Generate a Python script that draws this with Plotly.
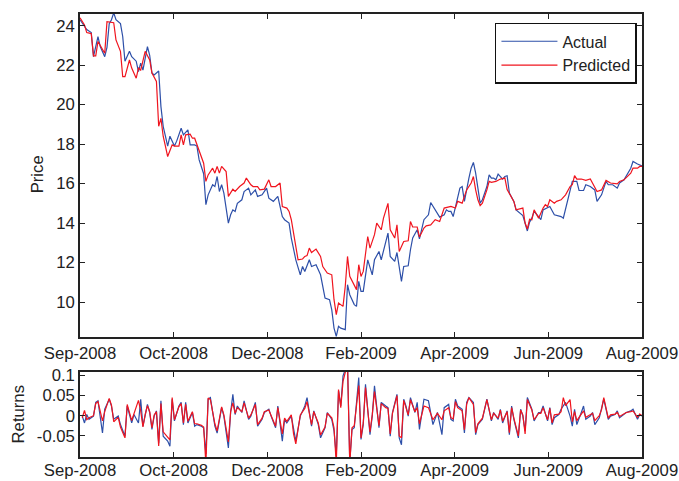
import plotly.graph_objects as go

# ---------------- data ----------------
tick_labels = ["Sep-2008", "Oct-2008", "Dec-2008", "Feb-2009", "Apr-2009", "Jun-2009", "Aug-2009"]
tick_days = [0, 41.667, 83.333, 125, 166.667, 208.333, 250]

actual_day = [0, 2, 3, 5, 6, 8, 9, 11, 12, 13, 14, 15, 16, 18, 19, 20, 22, 23, 25, 26, 27, 28, 29, 30,
              31, 32, 33, 35, 36, 37, 38, 39, 40, 42, 43, 45, 46, 48, 49, 51, 52, 53, 55, 56, 57, 59,
              60, 61, 62, 63, 64, 66, 67, 68, 69, 70, 72, 73, 75, 76, 78, 79, 81, 83, 84, 86, 88, 90,
              91, 93, 94, 95, 96, 98, 99, 100, 102, 103, 105, 107, 108, 109, 111, 112, 113, 114, 115,
              116, 118, 119, 120, 122, 123, 124, 125, 126, 128, 130, 131, 133, 134, 136, 137, 138,
              140, 141, 143, 144, 146, 147, 148, 150, 151, 153, 155, 156, 158, 160, 162, 163, 164,
              165, 166, 168, 169, 170, 171, 173, 174, 175, 176, 177, 178, 179, 181, 182, 183, 184,
              185, 186, 188, 189, 190, 191, 193, 194, 196, 197, 199, 200, 201, 202, 204, 205, 206,
              208, 209, 211, 214, 215, 217, 218, 219, 221, 222, 224, 225, 227, 229, 230, 232, 234,
              235, 237, 239, 240, 242, 245, 246, 248, 250]
actual_price = [24.3, 23.95, 23.8, 23.65, 22.43, 23.44, 22.94, 22.43, 22.9, 24.1, 24.3, 24.65, 24.3,
                24.1, 23.45, 22.2, 22.7, 22.43, 22.2, 21.67, 22.1, 21.75, 22.35, 22.94, 22.5, 21.6,
                21.5, 21.7, 19.9, 18.9, 18.4, 17.9, 18.4, 17.9, 18.15, 18.8, 18.47, 18.72, 17.96,
                17.96, 17.9, 17.2, 16.5, 14.93, 15.43, 15.94, 15.85, 16.36, 15.6, 15.94, 15.52, 14.0,
                14.42, 14.67, 14.59, 15.0, 15.18, 15.6, 15.77, 15.43, 15.68, 15.35, 15.43, 15.77,
                15.26, 15.1, 15.35, 14.33, 14.17, 14.0, 13.24, 12.73, 12.14, 11.38, 11.8, 11.55,
                12.14, 11.8, 11.89, 11.38, 10.71, 10.2, 10.12, 9.6, 8.68, 8.26, 8.77, 8.68, 8.6,
                10.88, 10.37, 9.87, 9.78, 11.05, 10.54, 10.54, 12.14, 11.38, 12.14, 12.56, 12.14,
                12.98, 13.49, 12.31, 12.06, 12.51, 11.05, 11.8, 11.84, 12.65, 13.25, 13.66, 13.2,
                14.17, 14.42, 15.04, 14.67, 14.3, 14.42, 14.67, 14.59, 14.59, 14.33, 15.26, 15.77,
                15.85, 15.1, 16.28, 16.78, 17.07, 16.53, 15.77, 15.01, 15.18, 15.85, 16.44, 16.28,
                16.28, 16.19, 16.48, 16.23, 16.36, 16.4, 15.52, 15.1, 14.67, 14.45, 14.38, 13.6,
                14.05, 14.25, 14.59, 14.33, 14.17, 14.67, 14.76, 14.84, 14.42, 14.33, 14.25, 15.26,
                15.6, 16.11, 16.11, 15.65, 15.65, 15.94, 15.85, 15.68, 15.1, 15.43, 16.11, 15.94,
                15.94, 15.77, 16.03, 16.19, 16.78, 17.12, 16.99, 16.9]

pred_day = [0, 2, 3, 5, 6, 7, 8, 10, 11, 12, 15, 16, 18, 19, 20, 22, 23, 25, 26, 27, 28, 29, 31,
            32, 34, 35, 36, 37, 38, 39, 41, 42, 44, 45, 46, 47, 49, 50, 51, 52, 53, 55, 56, 57, 59,
            60, 61, 62, 63, 65, 66, 67, 68, 69, 71, 73, 74, 76, 77, 79, 80, 82, 84, 85, 87, 89, 90,
            92, 93, 94, 95, 96, 97, 99, 100, 101, 102, 103, 105, 107, 108, 110, 112, 113, 114, 115,
            117, 118, 119, 120, 122, 123, 124, 125, 126, 128, 129, 131, 132, 134, 135, 136, 137,
            138, 140, 141, 142, 144, 146, 147, 148, 150, 151, 153, 154, 156, 158, 160, 162, 165,
            167, 168, 170, 171, 172, 174, 175, 176, 177, 178, 179, 181, 182, 183, 185, 187, 189,
            190, 193, 194, 197, 198, 199, 200, 201, 202, 204, 206, 207, 208, 209, 211, 212, 214,
            216, 218, 219, 220, 221, 223, 225, 227, 228, 230, 232, 234, 236, 239, 240, 242, 245,
            246, 248, 249, 250]
pred_price = [24.4, 24.03, 23.65, 23.6, 22.47, 22.47, 23.2, 22.77, 22.6, 24.2, 24.15, 23.28, 22.7,
              21.42, 21.42, 22.26, 21.85, 21.34, 21.85, 21.75, 22.18, 22.7, 22.26, 21.6, 21.17,
              18.9, 19.3, 18.4, 17.9, 17.37, 17.96, 17.9, 17.9, 18.47, 17.96, 18.47, 18.5, 18.3,
              18.3, 17.96, 17.62, 17.03, 16.11, 16.44, 16.78, 16.53, 16.87, 16.53, 16.87, 16.61,
              15.35, 15.52, 15.72, 15.6, 15.85, 16.03, 16.28, 15.94, 15.85, 15.85, 15.68, 15.72,
              16.19, 15.85, 15.85, 16.03, 14.84, 14.76, 14.59, 14.17, 13.41, 12.73, 12.14, 12.18,
              12.31, 12.35, 12.73, 12.51, 12.68, 12.31, 11.8, 11.47, 11.38, 10.12, 9.36, 9.95, 9.78,
              10.8, 12.31, 11.3, 10.88, 10.63, 11.89, 11.3, 11.55, 13.32, 12.73, 13.41, 14.0, 13.66,
              14.25, 14.59, 15.0, 13.66, 13.24, 13.91, 12.56, 13.07, 13.1, 14.08, 13.8, 13.8, 13.3,
              13.75, 13.86, 13.91, 14.17, 14.08, 14.76, 14.84, 14.76, 15.1, 15.01, 15.35, 15.68,
              16.03, 16.36, 15.68, 15.18, 14.88, 15.01, 15.68, 16.11, 16.06, 16.11, 16.23, 16.28,
              15.7, 15.1, 14.67, 14.76, 14.0, 13.7, 14.2, 14.17, 14.67, 14.25, 14.76, 14.93, 14.84,
              15.18, 15.01, 15.1, 15.18, 15.43, 15.85, 15.94, 16.4, 16.23, 16.23, 16.16, 16.23,
              16.03, 15.6, 15.68, 16.16, 16.03, 15.99, 16.11, 16.19, 16.53, 16.78, 16.78, 16.87,
              16.87]

ret_day = [1, 2, 3, 4, 6, 7, 8, 10, 11, 13, 14, 15, 17, 18, 20, 21, 23, 24, 26, 27, 28, 29, 30, 31,
           32, 33, 34, 35, 36, 37, 39, 40, 41, 42, 44, 45, 46, 47, 48, 50, 51, 52, 54, 55, 56, 57,
           58, 60, 61, 63, 64, 66, 67, 68, 69, 70, 72, 73, 75, 76, 78, 79, 81, 82, 84, 85, 87, 88,
           90, 91, 92, 94, 95, 96, 98, 100, 101, 103, 104, 106, 107, 109, 110, 112, 113, 114, 115,
           116, 117, 119, 120, 121, 122, 124, 125, 126, 127, 128, 129, 130, 131, 133, 134, 136,
           137, 138, 139, 141, 142, 143, 144, 145, 146, 147, 148, 149, 150, 151, 153, 155, 157,
           159, 161, 162, 164, 165, 166, 167, 168, 170, 171, 172, 173, 175, 176, 177, 179, 180,
           181, 183, 184, 186, 187, 188, 190, 191, 192, 193, 195, 196, 197, 198, 199, 201, 202,
           204, 205, 206, 208, 209, 210, 211, 213, 214, 215, 216, 218, 219, 220, 221, 223, 224,
           225, 227, 228, 229, 231, 232, 233, 235, 236, 238, 239, 240, 242, 243, 245, 246, 248,
           249, 250]
ret_actual = [-0.001, -0.018, 0.003, -0.009, -0.001, 0.033, 0.037, -0.043, 0.016, 0.041, 0.024,
              -0.009, -0.001, -0.022, -0.051, 0.024, -0.018, 0.003, -0.018, 0.041, -0.026, -0.001,
              0.028, 0.008, -0.034, -0.001, 0.012, -0.068, 0.037, -0.051, -0.063, -0.076, 0.041,
              -0.013, 0.024, 0.033, -0.022, 0.033, -0.018, 0.008, -0.026, -0.022, -0.026, -0.030,
              -0.095, 0.041, 0.045, -0.026, -0.043, 0.020, -0.001, -0.080, 0.008, 0.053, 0.003,
              0.024, 0.008, 0.037, -0.009, -0.001, 0.033, -0.026, -0.009, 0.008, 0.016, -0.001,
              -0.030, 0.024, -0.063, -0.009, -0.018, -0.001, -0.038, -0.063, -0.001, 0.024, 0.045,
              -0.026, 0.012, -0.022, -0.055, -0.030, 0.008, -0.009, -0.038, -0.099, 0.062, 0.024,
              0.099, 0.130, -0.115, -0.034, -0.030, 0.095, -0.059, -0.022, 0.078, 0.016, -0.047,
              -0.001, 0.074, -0.030, 0.033, 0.024, 0.020, -0.051, 0.008, 0.053, -0.055, -0.072,
              0.041, 0.024, -0.001, 0.045, 0.028, 0.008, 0.033, -0.034, 0.041, 0.037, -0.022, 0.008,
              -0.047, 0.020, 0.028, -0.009, -0.013, 0.041, 0.024, 0.016, -0.043, 0.033, 0.045,
              0.033, -0.047, -0.022, -0.009, 0.016, 0.041, -0.013, 0.008, -0.009, 0.016, -0.018,
              0.012, -0.047, 0.024, -0.009, -0.055, 0.016, -0.001, -0.038, 0.045, 0.016, -0.013,
              0.008, 0.008, 0.024, -0.013, 0.020, -0.022, -0.005, 0.003, 0.016, 0.024, 0.033,
              -0.001, -0.026, 0.016, -0.022, 0.008, 0.024, -0.009, -0.001, 0.008, -0.022, -0.005,
              0.020, 0.041, -0.009, -0.001, 0.003, 0.012, -0.005, 0.003, 0.008, 0.012, 0.016,
              -0.009, 0.003, -0.001]
ret_pred = [-0.005, 0.013, -0.010, -0.005, 0.000, 0.030, 0.035, -0.013, 0.010, 0.043, 0.026,
            -0.015, -0.004, -0.028, -0.055, 0.028, -0.012, 0.006, 0.038, 0.012, -0.028, 0.003,
            0.025, 0.010, -0.030, 0.002, 0.010, -0.075, 0.030, -0.040, -0.055, -0.060, 0.045,
            -0.010, 0.022, 0.030, -0.018, 0.028, -0.014, 0.010, -0.020, -0.020, -0.024, -0.028,
            -0.120, 0.044, 0.040, -0.020, -0.038, 0.022, 0.002, -0.065, 0.010, 0.032, 0.006,
            0.020, 0.010, 0.032, -0.006, 0.002, 0.028, -0.022, -0.006, 0.010, 0.014, 0.002,
            -0.026, 0.020, -0.045, -0.006, -0.014, 0.002, -0.045, -0.070, 0.002, 0.018, 0.035,
            -0.022, 0.010, -0.018, -0.048, -0.028, 0.006, -0.005, -0.030, -0.120, 0.065, 0.020,
            0.085, 0.130, -0.120, -0.030, -0.025, 0.075, -0.055, -0.018, 0.070, 0.014, -0.040,
            0.002, 0.060, -0.025, 0.030, 0.020, 0.018, -0.045, 0.006, 0.050, -0.050, -0.055,
            0.038, 0.020, 0.002, 0.040, 0.022, 0.010, 0.020, -0.020, 0.024, 0.020, -0.010, 0.006,
            -0.010, 0.012, 0.020, -0.005, -0.008, 0.035, 0.020, 0.012, -0.035, 0.028, 0.045,
            0.028, -0.042, -0.020, -0.006, 0.014, 0.040, -0.010, 0.006, -0.006, 0.014, -0.014,
            0.010, -0.042, 0.020, -0.006, -0.050, 0.014, 0.002, -0.045, 0.040, 0.014, -0.010,
            0.006, 0.006, 0.020, -0.010, 0.018, -0.018, 0.002, 0.004, 0.010, 0.045, 0.025,
            0.040, -0.015, 0.010, -0.012, 0.006, 0.012, -0.004, 0.002, 0.006, -0.012, 0.000,
            0.015, 0.045, -0.006, 0.002, 0.004, 0.008, -0.002, 0.006, 0.008, 0.010, 0.012,
            -0.004, 0.004, 0.000]

price_ticks = [10, 12, 14, 16, 18, 20, 22, 24]
ret_ticks = [-0.05, 0, 0.05, 0.1]
ret_tick_text = ["-0.05", "0", "0.05", "0.1"]

# ---------------- figure ----------------
BLUE = "#2D4FA8"
RED = "#F0141E"
FONT = "Liberation Sans, Arial, sans-serif"
INK = "#222222"
FS = 16.7

fig = go.Figure()
fig.add_trace(go.Scatter(x=actual_day, y=actual_price, mode="lines", name="Actual",
                         line=dict(color=BLUE, width=1.2), xaxis="x", yaxis="y"))
fig.add_trace(go.Scatter(x=pred_day, y=pred_price, mode="lines", name="Predicted",
                         line=dict(color=RED, width=1.2), xaxis="x", yaxis="y"))
fig.add_trace(go.Scatter(x=ret_day, y=ret_actual, mode="lines", showlegend=False,
                         line=dict(color=BLUE, width=1.2), xaxis="x2", yaxis="y2"))
fig.add_trace(go.Scatter(x=ret_day, y=ret_pred, mode="lines", showlegend=False,
                         line=dict(color=RED, width=1.2), xaxis="x2", yaxis="y2"))

axis_common = dict(showgrid=False, zeroline=False, showline=True, linecolor=INK, linewidth=1.5,
                   mirror="ticks", ticks="inside", ticklen=5, tickcolor=INK, tickwidth=1,
                   automargin=False,
                   tickfont=dict(family=FONT, size=FS, color=INK))

fig.update_layout(
    width=679, height=481,
    paper_bgcolor="white", plot_bgcolor="white",
    margin=dict(l=80, r=37, t=14, b=24, autoexpand=False),
    font=dict(family=FONT, size=FS, color=INK),
    xaxis=dict(domain=[0, 1], anchor="y", range=[0, 250], tickmode="array",
               tickvals=tick_days, ticktext=tick_labels, **axis_common),
    yaxis=dict(domain=[0.2709, 1], anchor="x", range=[8.23, 24.59], tickmode="array",
               tickvals=price_ticks, **axis_common),
    xaxis2=dict(domain=[0, 1], anchor="y2", range=[0, 250], tickmode="array",
                tickvals=tick_days, ticktext=tick_labels, ticklabelstandoff=-3, **axis_common),
    yaxis2=dict(domain=[0, 0.1919], anchor="x2", range=[-0.1025, 0.1085], tickmode="array",
                tickvals=ret_ticks, ticktext=ret_tick_text, **axis_common),
    legend=dict(x=0.991, xanchor="right", y=0.98, yanchor="top", bgcolor="white",
                bordercolor="#111111", borderwidth=1.5, font=dict(family=FONT, size=16, color=INK),
                itemwidth=56, tracegroupgap=0),
    showlegend=True,
    annotations=[
        dict(text="Price", textangle=-90, xref="paper", yref="paper", x=-0.0756, y=0.637,
             xanchor="center", yanchor="middle",
             showarrow=False, font=dict(family=FONT, size=FS, color=INK)),
        dict(text="Returns", textangle=-90, xref="paper", yref="paper", x=-0.1094, y=0.095,
             xanchor="center", yanchor="middle",
             showarrow=False, font=dict(family=FONT, size=FS, color=INK)),
    ],
)

fig.write_html(
    "out.html",
    config={"displayModeBar": False},
    post_script="document.documentElement.style.margin='0';document.body.style.margin='0';"
                "document.body.style.overflow='hidden';",
)
